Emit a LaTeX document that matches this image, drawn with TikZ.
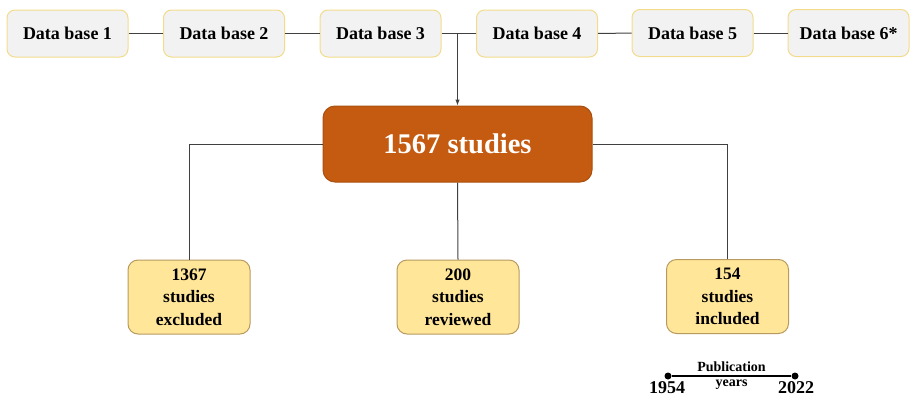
\documentclass[tikz,border=0pt]{standalone}
\usepackage{fontspec}
\setmainfont{Liberation Serif}
\usetikzlibrary{arrows.meta}
\definecolor{dbfill}{HTML}{F2F2F2}
\definecolor{dbline}{HTML}{F2DC8C}
\definecolor{mainfill}{HTML}{C55A11}
\definecolor{mainline}{HTML}{A9500F}
\definecolor{resfill}{HTML}{FFE699}
\definecolor{resline}{HTML}{B89A5E}
\definecolor{conn}{HTML}{404040}
\begin{document}
\begin{tikzpicture}[x=1pt,y=-1pt,
    dbbox/.style={draw=dbline,fill=dbfill,line width=1pt,rounded corners=8pt,minimum width=121pt,minimum height=47pt,inner sep=0pt,font=\bfseries\fontsize{18}{22}\selectfont},
    mainbox/.style={draw=mainline,fill=mainfill,line width=1pt,rounded corners=12pt,minimum width=269pt,minimum height=76pt,inner sep=0pt,text=white,font=\bfseries\fontsize{28.5}{34}\selectfont},
    resbox/.style={draw=resline,fill=resfill,line width=1pt,rounded corners=10pt,minimum width=122pt,minimum height=74pt,inner sep=0pt,align=center,font=\bfseries\fontsize{17.5}{22.5}\selectfont},
    link/.style={draw=conn,line width=1pt},
    dot/.style={circle,fill=black,inner sep=0pt,minimum size=7pt}]
  \useasboundingbox (0,0) rectangle (910,397);
  \node[dbbox] (db1) at (67.5,33.5) {Data base 1};
  \node[dbbox] (db2) at (224,33.5) {Data base 2};
  \node[dbbox] (db3) at (380.5,33.5) {Data base 3};
  \node[dbbox] (db4) at (537,33.5) {Data base 4};
  \node[dbbox] (db5) at (692.5,33) {Data base 5};
  \node[dbbox] (db6) at (848.5,33) {Data base 6*};
  \node[mainbox] (total) at (457.5,144) {1567 studies};
  \node[resbox] (excl) at (189,297) {1367\\studies\\excluded};
  \node[resbox] (rev) at (458,297) {200\\studies\\reviewed};
  \node[resbox] (incl) at (727.5,296.5) {154\\studies\\included};
  \draw[link] (db1) -- (db2);
  \draw[link] (db2) -- (db3);
  \draw[link] (db3) -- (db4);
  \draw[link] (db4) -- (db5);
  \draw[link] (db5) -- (db6);
  \draw[link,-{Latex[length=6pt,width=4.5pt]}] (db3.east -| total.north) -- (total.north);
  \draw[link] (total.west) -| (excl.north);
  \draw[link] (total.south) -- (rev.north);
  \draw[link] (total.east) -| (incl.north);
  % publication years
  \node[dot] (start) at (668,376) {};
  \node[dot] (end) at (795,376) {};
  \draw[line width=1.5pt] (start) -- (end);
  \node[anchor=base,font=\bfseries\fontsize{14}{16}\selectfont] (pub) at (731.5,371) {Publication};
  \node[anchor=base,font=\bfseries\fontsize{14}{16}\selectfont] (yrs) at (731.5,386) {years};
  \node[inner sep=0pt,font=\bfseries\fontsize{18}{20}\selectfont] (y1954) at (667,387.5) {1954};
  \node[inner sep=0pt,font=\bfseries\fontsize{18}{20}\selectfont] (y2022) at (796,387.5) {2022};
\end{tikzpicture}
\end{document}
